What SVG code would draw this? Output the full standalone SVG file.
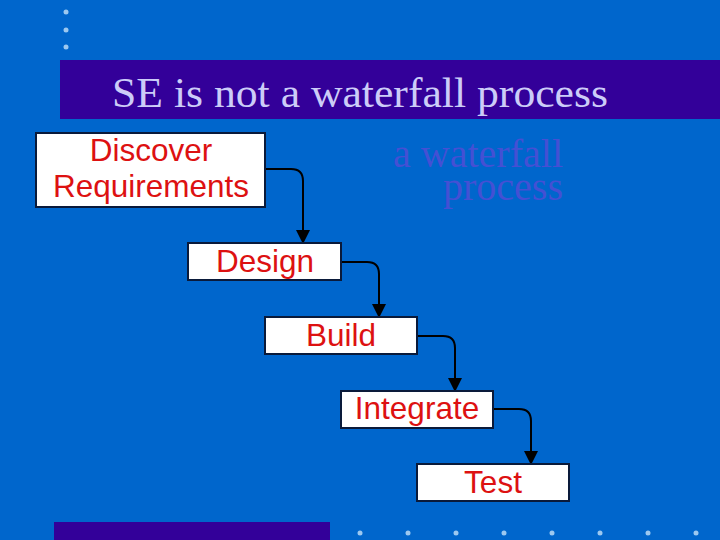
<svg xmlns="http://www.w3.org/2000/svg" width="720" height="540" viewBox="0 0 720 540">
<defs>
<style>
.box{fill:#fff;stroke:#0a1a3a;stroke-width:2}
.lbl{font-family:"Liberation Sans",Arial,sans-serif;font-size:31.5px;fill:#dd1111;text-anchor:middle}
.conn{fill:none;stroke:#000;stroke-width:2}
.dot{fill:#9cc8f0}
</style>
<marker id="arr" viewBox="0 0 14 14" refX="13" refY="7" markerWidth="14" markerHeight="14" markerUnits="userSpaceOnUse" orient="auto">
<path d="M0,0 L14,7 L0,14 Z" fill="#000"/>
</marker>
</defs>
<rect width="720" height="540" fill="#0066cc"/>
<g id="dots-top">
<circle class="dot" cx="66" cy="12" r="2.5"/>
<circle class="dot" cx="66" cy="30" r="2.5"/>
<circle class="dot" cx="66" cy="47" r="2.5"/>
</g>
<g id="title">
<rect x="60" y="60" width="660" height="59" fill="#330099"/>
<text x="112" y="107" font-family="'Liberation Serif','Times New Roman',serif" font-size="42" fill="#ccccf8" textLength="496" lengthAdjust="spacingAndGlyphs">SE is not a waterfall process</text>
</g>
<g id="ghost" font-family="'Liberation Serif','Times New Roman',serif" font-size="40" fill="#4450d4" text-anchor="end">
<text x="563" y="167">a waterfall</text>
<text x="563" y="200">process</text>
</g>
<g id="connectors">
<path class="conn" d="M265,169 H291 Q303,169 303,181 V243" marker-end="url(#arr)"/>
<path class="conn" d="M341,262 H367 Q379,262 379,274 V317" marker-end="url(#arr)"/>
<path class="conn" d="M417,336 H443 Q455,336 455,348 V391" marker-end="url(#arr)"/>
<path class="conn" d="M493,409 H519 Q531,409 531,421 V464" marker-end="url(#arr)"/>
</g>
<g id="discover">
<rect class="box" x="36" y="133" width="229" height="74"/>
<text class="lbl" x="151" y="161">Discover</text>
<text class="lbl" x="151" y="197">Requirements</text>
</g>
<g id="design">
<rect class="box" x="188" y="243" width="153" height="37"/>
<text class="lbl" x="265" y="272">Design</text>
</g>
<g id="build">
<rect class="box" x="265" y="317" width="152" height="37"/>
<text class="lbl" x="341" y="346">Build</text>
</g>
<g id="integrate">
<rect class="box" x="341" y="391" width="152" height="37"/>
<text class="lbl" x="417" y="419">Integrate</text>
</g>
<g id="test">
<rect class="box" x="417" y="464" width="152" height="37"/>
<text class="lbl" x="493" y="493">Test</text>
</g>
<g id="footer">
<rect x="54" y="522" width="276" height="18" fill="#330099"/>
<circle class="dot" cx="360" cy="533" r="2.5"/>
<circle class="dot" cx="408" cy="533" r="2.5"/>
<circle class="dot" cx="456" cy="533" r="2.5"/>
<circle class="dot" cx="504" cy="533" r="2.5"/>
<circle class="dot" cx="552" cy="533" r="2.5"/>
<circle class="dot" cx="600" cy="533" r="2.5"/>
<circle class="dot" cx="648" cy="533" r="2.5"/>
<circle class="dot" cx="696" cy="533" r="2.5"/>
</g>
</svg>
